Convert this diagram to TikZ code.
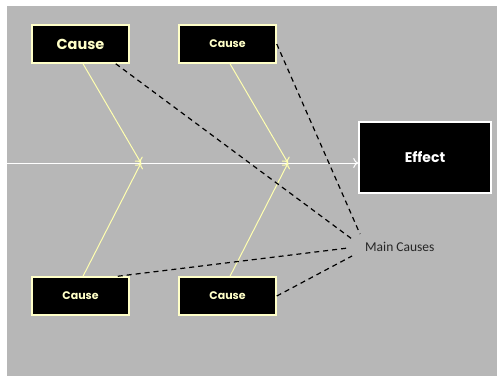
\documentclass[tikz,border=0pt]{standalone}
\usepackage{fontspec}
\setmainfont{Poppins}
\newfontfamily\mcfont{Carlito}
\usetikzlibrary{arrows.meta,calc}
\definecolor{bggray}{HTML}{B7B7B7}
\definecolor{paleyellow}{HTML}{FFFFC8}
\definecolor{armyellow}{HTML}{FFFFB0}
\tikzset{
  causebox/.style={draw=paleyellow, line width=1.5pt, fill=black, text=paleyellow,
    minimum width=97pt, minimum height=38pt, inner sep=0pt, font=\fontsize{11}{13}\selectfont\bfseries},
  effectbox/.style={draw=white, line width=1.5pt, fill=black, text=white,
    minimum width=132pt, minimum height=71pt, inner sep=0pt, font=\fontsize{14}{16}\selectfont\bfseries},
  bone/.style={draw=armyellow, line width=1pt, -{To[length=5pt,width=9pt]}},
  spine/.style={draw=white, line width=1pt, -{To[length=5pt,width=10pt]}},
  dline/.style={draw=black, line width=1.2pt, dash pattern=on 5pt off 4pt},
}
\begin{document}
\begin{tikzpicture}[x=1pt,y=-1pt]
\useasboundingbox (0,0) rectangle (497,376);
\fill[bggray] (7,6) rectangle (497,376);
% nodes
\node[causebox, font=\fontsize{14.5}{16}\selectfont\bfseries] (c1) at (80.5,44) {Cause};
\node[causebox] (c2) at (227.5,44) {Cause};
\node[causebox] (c3) at (80.5,296) {Cause};
\node[causebox] (c4) at (227.5,296) {Cause};
\node[effectbox] (e) at (425,157.5) {Effect};
\node[font=\mcfont\fontsize{13.5}{15}\selectfont, text=black!85, anchor=west, inner sep=0pt] (mc) at (365,247) {Main Causes};
% coordinates
\coordinate (s0) at (7,163);
\coordinate (j1) at (141,163);
\coordinate (j2) at (288,163);
\coordinate (m1) at (352,239);
\coordinate (m2) at (360,234);
\coordinate (m3) at (348,248);
\coordinate (m4) at (352,256);
% spine
\draw[spine] (s0) -- (s0 -| e.west);
% bones
\draw[bone] ([xshift=2.5pt]c1.south) -- (j1);
\draw[bone] ([xshift=2.5pt]c3.north) -- (j1);
\draw[bone] ([xshift=2.5pt]c2.south) -- (j2);
\draw[bone] ([xshift=2.5pt]c4.north) -- (j2);
% dashed
\draw[dline] ([xshift=-14pt]c1.south east) -- (m1);
\draw[dline] ([yshift=4pt]c2.north east |- 0,48) -- (m2);
\draw[dline] ([xshift=-12pt]c3.north east) -- (m3);
\draw[dline] (c4.east) -- (m4);
\end{tikzpicture}
\end{document}
